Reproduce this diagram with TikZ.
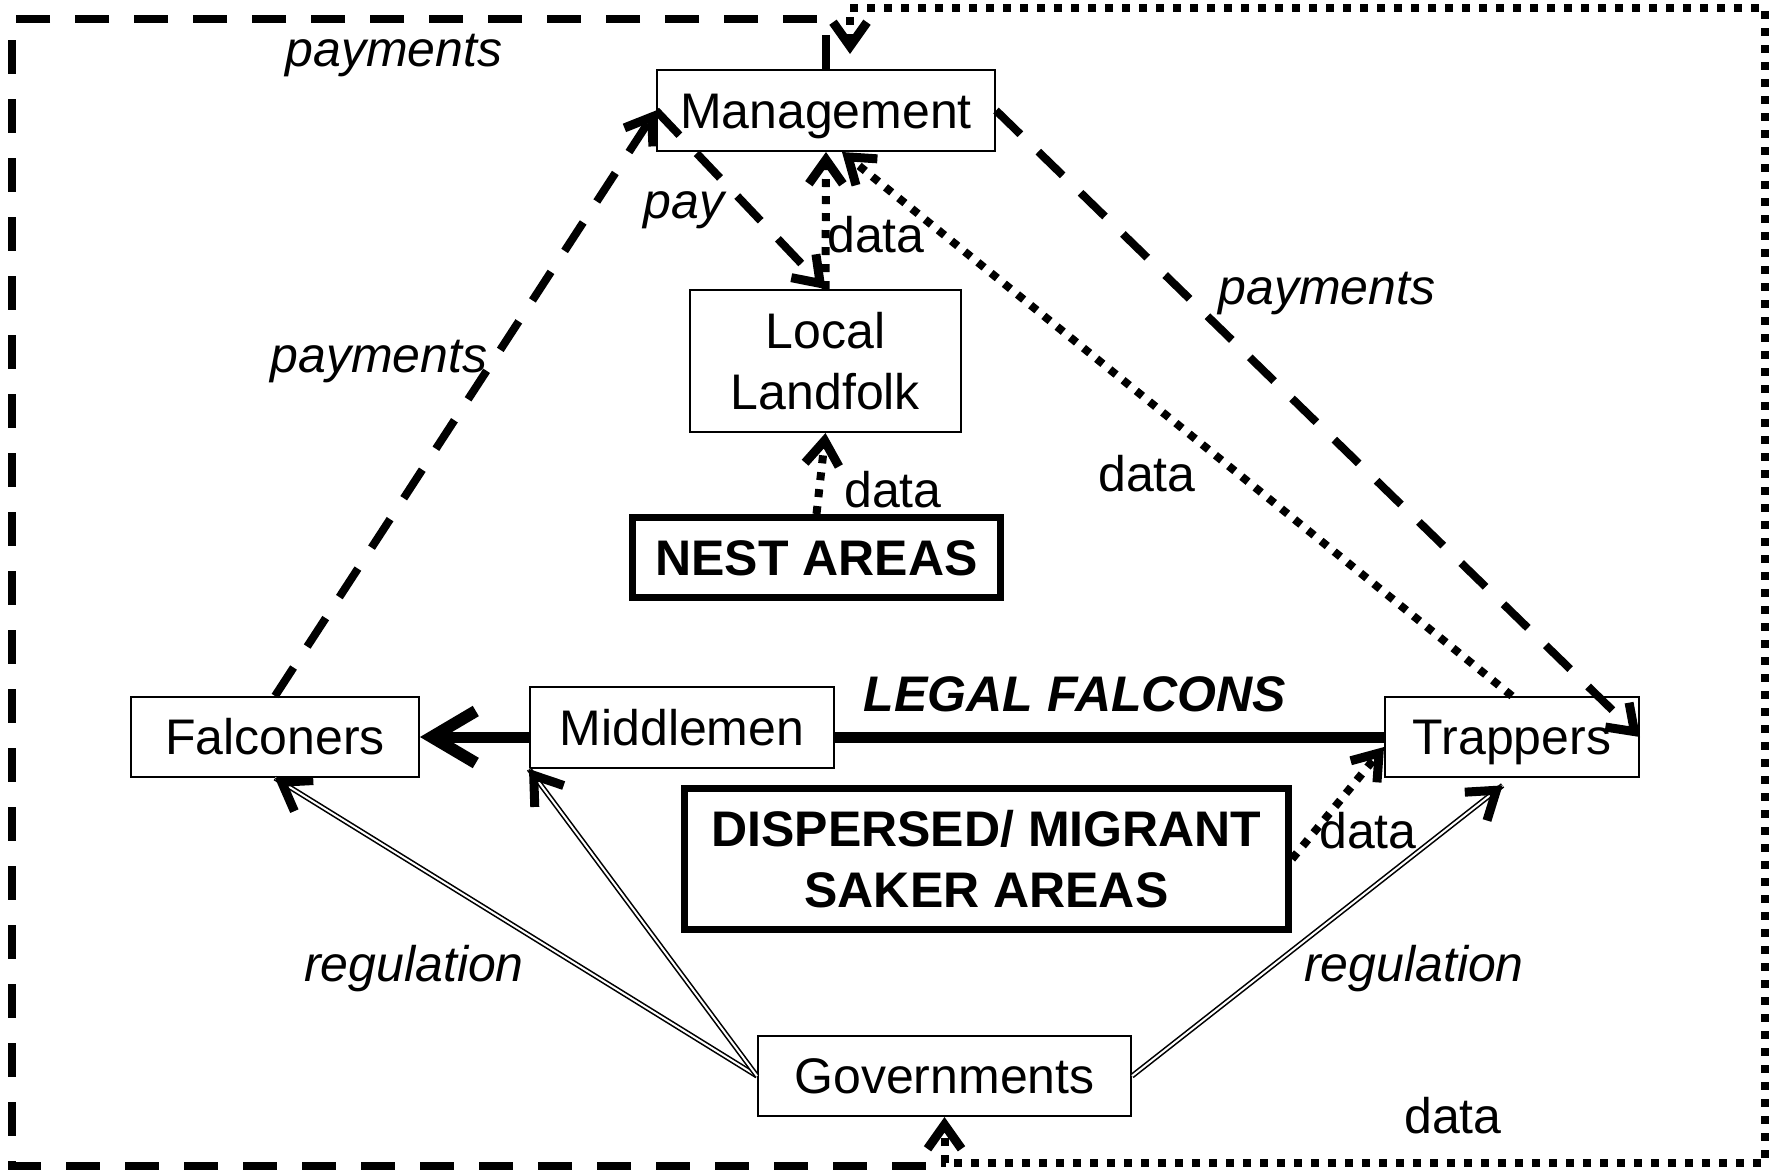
\documentclass[tikz,border=0pt]{standalone}
\usepackage{fontspec}
\setmainfont{Liberation Sans}
\usetikzlibrary{arrows.meta}
\usetikzlibrary{calc}

\tikzset{
  box/.style={draw, line width=1pt, fill=white, inner sep=0pt, font=\fontsize{25}{30.5}\selectfont},
  actor/.style={box, text height=17.9pt, text depth=0pt},
  area/.style={draw, line width=3.5pt, fill=white, inner sep=0pt, align=center, font=\fontsize{25}{30.5}\selectfont\bfseries},
  lbl/.style={inner sep=0pt, anchor=base, font=\fontsize{25}{30.5}\selectfont},
  itlbl/.style={lbl, font=\fontsize{25}{30.5}\selectfont\itshape},
  payline/.style={line width=4pt, dash pattern=on 17pt off 12.5pt},
  dataline/.style={line width=4pt, dash pattern=on 4pt off 4.5pt},
  opentip/.style={-{Straight Barb[length=12pt,width=17pt,line width=4.5pt]}},
  regline/.style={double, double distance=1pt, line width=0.8pt},
  regtip/.style={line width=2.6pt, -{Straight Barb[length=13pt,width=18pt,line width=4.5pt]}},
}

\begin{document}
\begin{tikzpicture}[x=0.5pt,y=0.5pt,yscale=-1,xscale=1]
\useasboundingbox (0,0) rectangle (1777,1169);

%Shape: Rectangle [Management]
\node[actor, minimum width=169pt, minimum height=40.5pt] (Management) at (826,110.5) {Management};
%Shape: Rectangle [Local Landfolk]
\node[box, align=center, minimum width=135.5pt, minimum height=71pt] (Landfolk) at (825.5,361) {Local\\Landfolk};
%Shape: Rectangle [Nest areas]
\node[area, text height=17.9pt, text depth=0pt, minimum width=184pt, minimum height=40pt] (Nest) at (816.5,557.5) {NEST AREAS};
%Shape: Rectangle [Falconers]
\node[actor, minimum width=144pt, minimum height=40pt] (Falconers) at (275,737) {Falconers};
%Shape: Rectangle [Middlemen]
\node[actor, minimum width=152pt, minimum height=40.5pt] (Middlemen) at (682,727.5) {Middlemen};
%Shape: Rectangle [Trappers]
\node[actor, minimum width=127pt, minimum height=40pt] (Trappers) at (1512,737) {Trappers};
%Shape: Rectangle [Saker areas]
\node[area, minimum width=302pt, minimum height=70.5pt] (Saker) at (986.5,859) {DISPERSED/ MIGRANT\\SAKER AREAS};
%Shape: Rectangle [Governments]
\node[actor, minimum width=186.5pt, minimum height=40pt] (Governments) at (944.5,1076) {Governments};

%Corners of the outer loops
\coordinate (payTL) at (12,19);
\coordinate (payBL) at (12,1166);
\coordinate (dataTL) at (850,8);
\coordinate (dataTR) at (1765,8);
\coordinate (dataBR) at (1765,1163);

%Straight Lines [payments loop]
\draw[payline] (Management.north) -- (Management.north |- payTL) -- (payTL) -- (payBL) -- (Governments.south |- payBL);
%Straight Lines [data loop]
\draw[dataline, {Straight Barb[length=12pt,width=17pt,line width=4.5pt]}-{Straight Barb[length=12pt,width=17pt,line width=4.5pt]}] ($(Management.north)+(24,-15)$) -- (dataTL) -- (dataTR) -- (dataBR) -- (Governments.south |- dataBR) -- (Governments.south);

%Straight Lines [payments]
\draw[payline, opentip] (Falconers.north) -- (Management.west);
\draw[payline, opentip] (Management.west) -- (Landfolk.north);
\draw[payline, opentip] (Management.east) -- (Trappers.east);
%Straight Lines [data]
\draw[dataline, opentip] (Landfolk.north) -- (Management.south);
\draw[dataline, opentip] (Trappers.north) -- ($(Management.south)+(16,0)$);
\draw[dataline, opentip] (Nest.north) -- (Landfolk.south);
\draw[dataline, opentip] (Saker.east) -- ($(Trappers.west)+(0,10)$);

%Straight Lines [legal falcons]
\draw[line width=5.5pt] (Trappers.west) -- (Trappers.west -| Middlemen.east);
\draw[line width=5.5pt, -{Straight Barb[length=22pt,width=26pt,line width=6pt]}] (Trappers.west -| Middlemen.west) -- (Falconers.east);

%Straight Lines [regulation]
\coordinate (regT) at ($(Trappers.south)!6pt!(Governments.east)$);
\draw[regline] (Governments.west) -- (Falconers.south);
\draw[regtip] ($(Falconers.south)!5pt!(Governments.west)$) -- (Falconers.south);
\draw[regline] (Governments.west) -- (Middlemen.south west);
\draw[regtip] ($(Middlemen.south west)!5pt!(Governments.west)$) -- (Middlemen.south west);
\draw[regline] (Governments.east) -- (regT);
\draw[regtip] ($(regT)!5pt!(Governments.east)$) -- (regT);

% Text Node
\node[itlbl] (payA) at (394,66) {payments};
\node[itlbl] (payB) at (684,218) {pay};
\node[lbl] (dataA) at (876,252) {data};
\node[itlbl] (payC) at (1327,304) {payments};
\node[itlbl] (payD) at (379,372) {payments};
\node[lbl] (dataB) at (1147,491) {data};
\node[lbl] (dataC) at (893,507) {data};
\node[lbl, font=\fontsize{25}{30.5}\selectfont\bfseries\itshape] (legal) at (1075,711) {LEGAL FALCONS};
\node[lbl] (dataD) at (1368,848) {data};
\node[itlbl] (regA) at (414,981) {regulation};
\node[itlbl] (regB) at (1414,981) {regulation};
\node[lbl] (dataE) at (1453,1133) {data};
\end{tikzpicture}
\end{document}
